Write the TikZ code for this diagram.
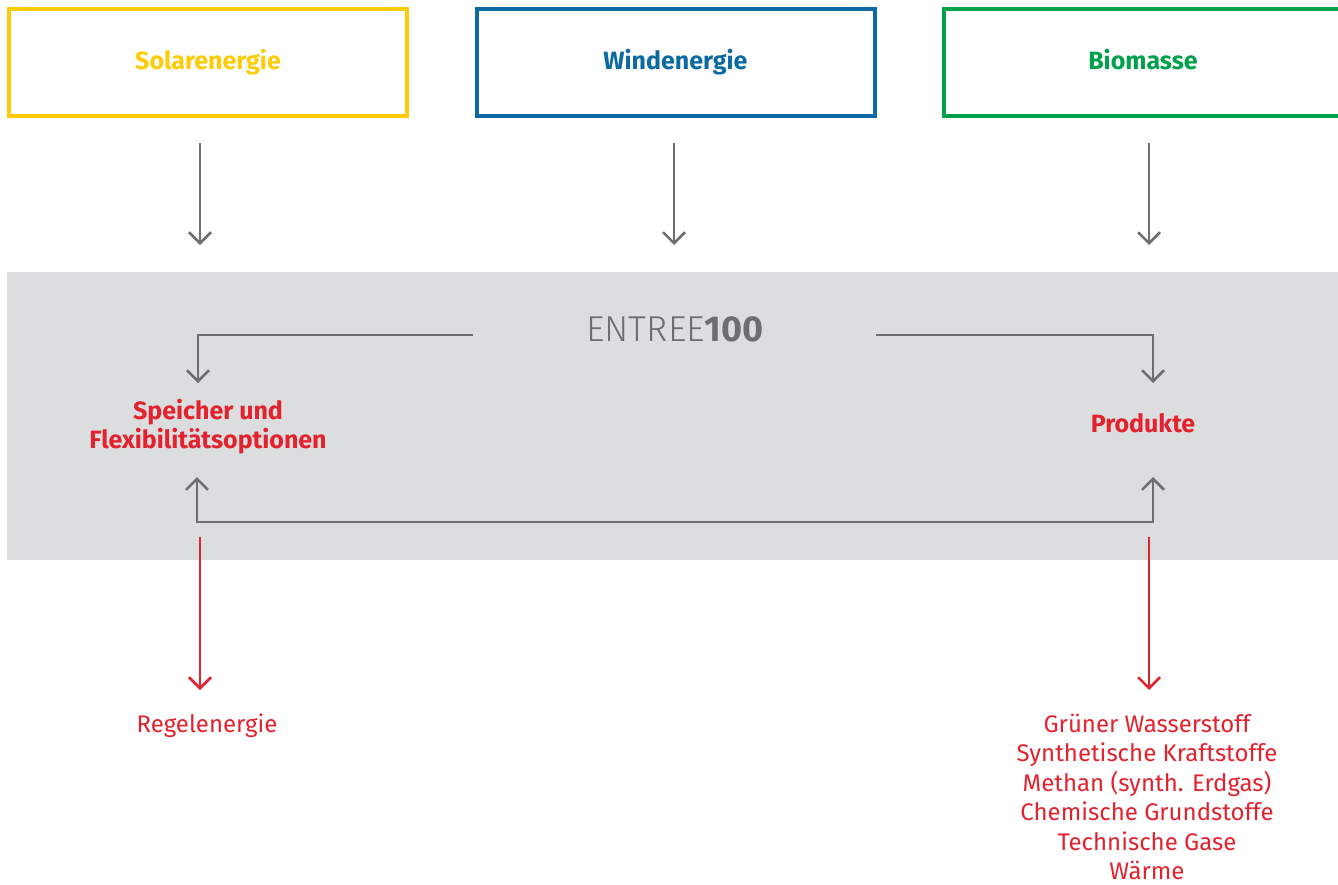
\documentclass[tikz,border=0pt]{standalone}
\usepackage{fontspec}
\setmainfont{Fira Sans}
\newfontfamily\lightfont{Fira Sans Light}
\usetikzlibrary{arrows.meta,positioning}

\definecolor{solargelb}{HTML}{FFCB05}
\definecolor{windblau}{HTML}{0A6AA1}
\definecolor{biogruen}{HTML}{00A14B}
\definecolor{rot}{HTML}{E2222D}
\definecolor{grau}{HTML}{6D6E70}
\definecolor{band}{HTML}{DCDDDF}

\tikzset{
  quelle/.style={draw, line width=4pt, minimum width=398pt, minimum height=107pt,
    text height=20pt, text depth=5.5pt,
    font=\bfseries\fontsize{25}{29}\selectfont},
  pfeil/.style={draw=grau, line width=2.5pt, -{Straight Barb[length=11pt,width=22pt]}},
  pfeilrot/.style={pfeil, draw=rot},
  ziel/.style={text=rot, align=center, font=\bfseries\fontsize{25}{29}\selectfont},
  ergebnis/.style={text=rot, align=center, font=\fontsize{24}{29.5}\selectfont}
}

\begin{document}
\begin{tikzpicture}[x=1pt,y=-1pt]
      \useasboundingbox (0,0) rectangle (1338,884);

      % Quellen
      \node[quelle,draw=solargelb,text=solargelb] (solar) at (208,62.5) {Solarenergie};
      \node[quelle,draw=windblau,text=windblau] (wind) at (675.5,62.5) {Windenergie};
      \node[quelle,draw=biogruen,text=biogruen] (bio) at (1143,62.5) {Biomasse};

      \coordinate (solarEnd) at (200,245);
      \coordinate (windEnd) at (674,245);
      \coordinate (bioEnd) at (1149,245);
      \draw[pfeil] ([xshift=-8pt,yshift=-25pt]solar.south) -- (solarEnd);
      \draw[pfeil] ([xshift=-1.5pt,yshift=-25pt]wind.south) -- (windEnd);
      \draw[pfeil] ([xshift=6pt,yshift=-25pt]bio.south) -- (bioEnd);

      % ENTREE100
      \fill[band] (7,272) rectangle (1338,560);
      \node[text=grau,font=\fontsize{36}{40}\selectfont] (entree) at (675,329)
        {{\lightfont ENTREE}\textbf{100}};

      \node[ziel] (speicher) at (208,427) {Speicher und\\Flexibilitätsoptionen};
      \node[ziel] (produkte) at (1143,423) {Produkte};

      \coordinate (eLinks) at (473,335);
      \coordinate (eRechts) at (876,335);
      \coordinate (spIn) at (198,383);
      \coordinate (prIn) at (1153,383);
      \draw[pfeil] (eLinks) -| (spIn);
      \draw[pfeil] (eRechts) -| (prIn);

      \coordinate (spUp) at (197,477);
      \coordinate (prUp) at (1153,477);
      \coordinate (schleife) at (1153,522);
      \draw[pfeil,{Straight Barb[length=11pt,width=22pt]}-{Straight Barb[length=11pt,width=22pt]}]
        (spUp) |- (schleife) -- (prUp);

      % Ergebnisse
      \node[ergebnis] (regel) at (207,726) {Regelenergie};
      \node[ergebnis] (liste) at (1147,797) {Grüner Wasserstoff\\Synthetische Kraftstoffe\\Methan (synth. Erdgas)\\Chemische Grundstoffe\\Technische Gase\\Wärme};

      \coordinate (spOut) at (200,537);
      \coordinate (regelIn) at (200,690);
      \coordinate (prOut) at (1149,537);
      \coordinate (listeIn) at (1149,690);
      \draw[pfeilrot] (spOut) -- (regelIn);
      \draw[pfeilrot] (prOut) -- (listeIn);
\end{tikzpicture}
\end{document}
